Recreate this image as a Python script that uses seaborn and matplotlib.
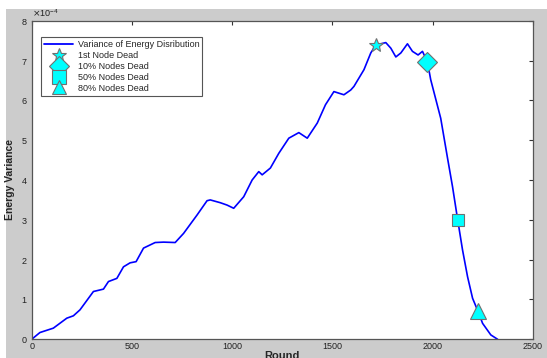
import matplotlib
matplotlib.use("Agg")
import matplotlib.pyplot as plt
import seaborn as sns
import pandas as pd
from matplotlib.patches import Rectangle
from matplotlib.lines import Line2D

# ---- data (variance in units of 1e-4) ----
rounds = [0, 41, 108, 175, 208, 241, 308, 358, 383, 425, 458, 491, 521, 558, 616, 658,
          716, 758, 825, 875, 891, 941, 975, 1008, 1058, 1100, 1133, 1150, 1191, 1233,
          1283, 1333, 1375, 1425, 1466, 1508, 1558, 1592, 1608, 1658, 1692, 1717, 1767,
          1792, 1817, 1842, 1875, 1900, 1928, 1950, 1975, 1991, 2041, 2075, 2100, 2125,
          2150, 2175, 2200, 2228, 2250, 2291, 2325]
variance_e4 = [0, 0.17, 0.28, 0.53, 0.59, 0.74, 1.20, 1.26, 1.45, 1.53, 1.82, 1.92, 1.95,
               2.29, 2.43, 2.44, 2.43, 2.66, 3.12, 3.48, 3.50, 3.43, 3.37, 3.29, 3.58, 4.00,
               4.21, 4.13, 4.30, 4.67, 5.05, 5.19, 5.05, 5.43, 5.89, 6.22, 6.14, 6.26, 6.35,
               6.77, 7.19, 7.39, 7.45, 7.31, 7.09, 7.19, 7.42, 7.23, 7.14, 7.23, 6.96, 6.52,
               5.55, 4.55, 3.83, 3.02, 2.24, 1.57, 1.03, 0.69, 0.40, 0.11, 0.0]
unit = 1e-4

event_labels = ["1st Node Dead", "10% Nodes Dead", "50% Nodes Dead", "80% Nodes Dead"]
event_rounds = [1717, 1975, 2125, 2228]
event_vals_e4 = [7.39, 6.96, 3.00, 0.72]
line_label = "Variance of Energy Disribution"

x_ticks = [0, 500, 1000, 1500, 2000, 2500]
y_ticks_e4 = [0, 1, 2, 3, 4, 5, 6, 7, 8]

# ---- style ----
sns.set_style("white")
plt.rcParams["font.family"] = ["Liberation Sans", "DejaVu Sans"]

fig = plt.figure(figsize=(5.47, 3.58), dpi=100)
fig.patch.set_facecolor("white")
fig.patches.append(Rectangle((6 / 547, 0), 1 - 6 / 547, 1 - 9 / 358,
                             transform=fig.transFigure, facecolor="#cccccc",
                             edgecolor="none", zorder=-10))
ax = fig.add_axes([31.7 / 547, 18.7 / 358, 501 / 547, 318.6 / 358])
ax.set_facecolor("white")

df = pd.DataFrame({"Round": rounds, "Var": [v * unit for v in variance_e4]})
sns.lineplot(data=df, x="Round", y="Var", ax=ax, color="#0000ff", linewidth=1.2,
             estimator=None, sort=False, label=line_label, legend=False)

markers = ["*", "D", "s", "^"]
msizes = [10, 10, 9, 12]
for lab, xr, yv, m, ms in zip(event_labels, event_rounds, event_vals_e4, markers, msizes):
    ax.plot([xr], [yv * unit], marker=m, markersize=ms, markerfacecolor="#00ffff",
            markeredgecolor="#707070", markeredgewidth=0.8, linestyle="none", zorder=5)

ax.set_xlim(0, 2500)
ax.set_ylim(0, 8 * unit)
ax.set_xticks(x_ticks)
ax.set_yticks([v * unit for v in y_ticks_e4])
ax.ticklabel_format(axis="y", style="sci", scilimits=(0, 0), useMathText=True)
ax.yaxis.get_offset_text().set_fontsize(6.5)
ax.tick_params(direction="in", length=3, width=0.8, labelsize=6.5, pad=3,
               top=True, right=True, color="#333333", labelcolor="#222222")
ax.tick_params(axis="x", pad=2)
for s in ax.spines.values():
    s.set_color("#555555")
    s.set_linewidth(0.9)

ax.set_xlabel("Round", fontsize=8, fontweight="bold", labelpad=0)
ax.set_ylabel("Energy Variance", fontsize=7.5, fontweight="bold", labelpad=4)

handles = [Line2D([], [], color="#0000ff", linewidth=1.3)]
for m in markers:
    handles.append(Line2D([], [], marker=m, markersize=10, markerfacecolor="#00ffff",
                          markeredgecolor="#707070", markeredgewidth=0.8, linestyle="none"))
leg = ax.legend(handles, [line_label] + event_labels, loc="upper left",
                bbox_to_anchor=(0.0186, 0.948), borderaxespad=0, fontsize=6.5,
                frameon=True, fancybox=False, framealpha=1, edgecolor="#555555",
                labelspacing=0.2, handlelength=3.2, handletextpad=0.5,
                borderpad=0.35)
leg.get_frame().set_linewidth(0.8)

fig.savefig("out.png", dpi=100)
